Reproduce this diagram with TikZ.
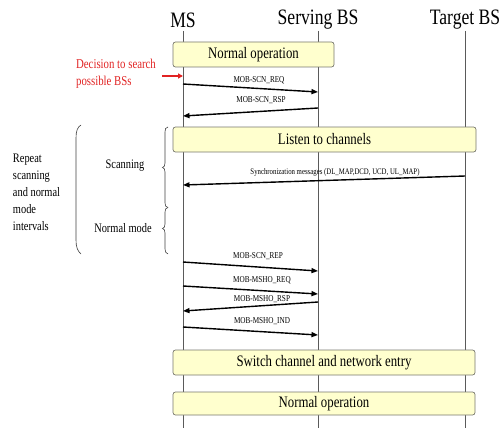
\documentclass[tikz,border=0pt]{standalone}
\usepackage{fontspec}
\setmainfont{Liberation Serif}[FakeStretch=0.8]
\usetikzlibrary{arrows.meta}
\definecolor{boxfill}{RGB}{255,255,206}
\definecolor{boxline}{RGB}{120,120,110}
\definecolor{lifeline}{RGB}{90,90,90}
\definecolor{redtxt}{RGB}{225,35,35}
\begin{document}
\begin{tikzpicture}[x=1pt,y=-1pt,
  title/.style={font=\fontsize{22}{24}\selectfont, inner sep=0pt},
  opbox/.style={draw=boxline, fill=boxfill, rounded corners=2.5pt, line width=0.7pt, inner sep=0pt, font=\fontsize{16}{18}\selectfont},
  life/.style={draw=lifeline, line width=0.8pt},
  msg/.style={line width=1.4pt, -{Triangle[length=6.5pt,width=5pt]}},
  msglabel/.style={font=\fontsize{9}{10}\selectfont, inner sep=0pt},
  side/.style={font=\fontsize{13}{17}\selectfont, inner sep=0pt, align=left},
  brace/.style={draw=black!75, line width=0.6pt}
]
\useasboundingbox (0,0) rectangle (503,428);
% titles
\node[title] (ms) at (183,20) {MS};
\node[title] (sbs) at (318,20) {Serving BS};
\node[title] (tbs) at (465,20) {Target BS};
% lifelines
\coordinate (msTop) at (183,31);
\coordinate (msBot) at (183,428);
\coordinate (sbsTop) at (318,31);
\coordinate (sbsBot) at (318,428);
\coordinate (tbsTop) at (465,31);
\coordinate (tbsBot) at (465,428);
\draw[life] (msTop) -- (msBot);
\draw[life] (sbsTop) -- (sbsBot);
\draw[life] (tbsTop) -- (tbsBot);
% boxes
\node[opbox, minimum width=161pt, minimum height=25pt] (b1) at (253.5,54.5) {Normal operation};
\node[opbox, minimum width=303pt, minimum height=25pt] (b2) at (324.5,139.5) {Listen to channels};
\node[opbox, minimum width=302pt, minimum height=25pt] (b3) at (324,362.5) {Switch channel and network entry};
\node[opbox, minimum width=302pt, minimum height=23pt] (b4) at (324,403.5) {Normal operation};
% decision
\node[side, text=redtxt, font=\fontsize{13.5}{17}\selectfont] (dec) at (116,74) {Decision to search\\possible BSs};
\coordinate (decS) at (162,76);
\coordinate (decE) at (183,76);
\draw[redtxt, line width=1.5pt, -{Triangle[length=5pt,width=5pt]}] (decS) -- (decE);
% messages
\coordinate (m1a) at (183,84);  \coordinate (m1b) at (318,92);
\coordinate (m2a) at (318,108); \coordinate (m2b) at (183,116);
\coordinate (m3a) at (465,176); \coordinate (m3b) at (183,185);
\coordinate (m4a) at (183,262); \coordinate (m4b) at (318,271);
\coordinate (m5a) at (183,286); \coordinate (m5b) at (318,294);
\coordinate (m6a) at (318,302); \coordinate (m6b) at (183,311);
\coordinate (m7a) at (183,327); \coordinate (m7b) at (318,335);
\draw[msg] (m1a) -- (m1b);
\draw[msg] (m2a) -- (m2b);
\draw[msg] (m3a) -- (m3b);
\draw[msg] (m4a) -- (m4b);
\draw[msg] (m5a) -- (m5b);
\draw[msg] (m6a) -- (m6b);
\draw[msg] (m7a) -- (m7b);
\node[msglabel] (l1) at (259,80) {MOB-SCN\_REQ};
\node[msglabel] (l2) at (261,100) {MOB-SCN\_RSP};
\node[msglabel, font=\fontsize{8.5}{10}\selectfont] (l3) at (335,172) {Synchronization messages (DL\_MAP,DCD, UCD, UL\_MAP)};
\node[msglabel] (l4) at (258,256) {MOB-SCN\_REP};
\node[msglabel] (l5) at (262,280) {MOB-MSHO\_REQ};
\node[msglabel] (l6) at (262,299) {MOB-MSHO\_RSP};
\node[msglabel] (l7) at (262,321) {MOB-MSHO\_IND};
% side labels
\node[side] (rep) at (36.5,192.5) {Repeat\\scanning\\and normal\\mode\\intervals};
\node[side] (scan) at (125,166) {Scanning};
\node[side] (norm) at (123,228) {Normal mode};
% braces
\draw[brace] (81,125) .. controls (77.5,127) and (76,131) .. (76,138) -- (76,240) .. controls (76,247) and (77.5,251) .. (81,254);
\draw[brace] (168,127) .. controls (165.5,127.5) and (165,129) .. (165,132) -- (165,163) .. controls (165,166) and (164,167) .. (162.5,167.5) .. controls (164,168) and (165,169) .. (165,172) -- (165,203) .. controls (165,206) and (166,207) .. (168,207.5);
\draw[brace] (168,207.5) .. controls (166,208) and (165,209) .. (165,212) -- (165,224) .. controls (165,227) and (164,228) .. (162.5,228.5) .. controls (164,229) and (165,230) .. (165,233) -- (165,249) .. controls (165,252) and (166,253) .. (168,254);
\end{tikzpicture}
\end{document}
